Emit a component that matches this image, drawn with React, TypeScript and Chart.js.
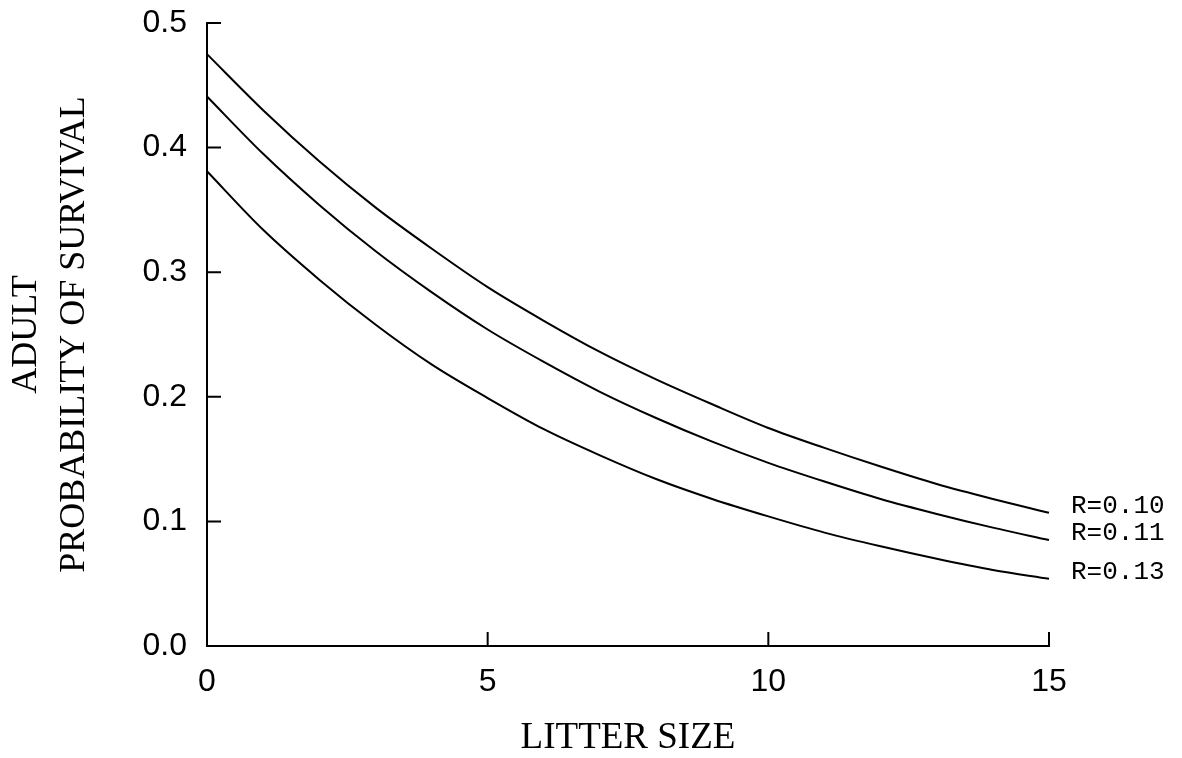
import React, { useEffect, useRef } from "react";
import { Chart, registerables } from "chart.js";

Chart.register(...registerables);

const xValues = [0, 1, 2, 3, 4, 5, 6, 7, 8, 9, 10, 11, 12, 13, 14, 15];
const survivalR010 = [0.475, 0.430, 0.389, 0.352, 0.319, 0.288, 0.261, 0.236, 0.214, 0.194, 0.175, 0.159, 0.144, 0.130, 0.118, 0.107];
const survivalR011 = [0.441, 0.395, 0.354, 0.317, 0.284, 0.254, 0.228, 0.204, 0.183, 0.164, 0.147, 0.132, 0.118, 0.106, 0.095, 0.085];
const survivalR013 = [0.381, 0.334, 0.294, 0.258, 0.226, 0.199, 0.174, 0.153, 0.134, 0.118, 0.104, 0.091, 0.080, 0.070, 0.061, 0.054];
const seriesLabels = ["R=0.10", "R=0.11", "R=0.13"];
const yTitleLines = ["ADULT", "PROBABILITY OF SURVIVAL"];
const xTitle = "LITTER SIZE";

const seriesValues = [survivalR010, survivalR011, survivalR013];

const decorPlugin = {
  id: "decor",
  afterDraw(chart: any) {
    const { ctx, chartArea } = chart;
    const xs = chart.scales.x;
    const ys = chart.scales.y;
    ctx.save();
    ctx.strokeStyle = "#000";
    ctx.lineWidth = 2;
    ctx.beginPath();
    ys.ticks.forEach((t: any) => {
      const py = ys.getPixelForValue(t.value);
      ctx.moveTo(chartArea.left, py);
      ctx.lineTo(chartArea.left + 14, py);
    });
    xs.ticks.forEach((t: any) => {
      const px = xs.getPixelForValue(t.value);
      ctx.moveTo(px, chartArea.bottom);
      ctx.lineTo(px, chartArea.bottom - 14);
    });
    ctx.stroke();
    ctx.fillStyle = "#000";
    ctx.font = "26px 'Liberation Mono', monospace";
    ctx.textAlign = "left";
    ctx.textBaseline = "middle";
    chart.data.datasets.forEach((ds: any, i: number) => {
      const meta = chart.getDatasetMeta(i);
      const last = meta.data[meta.data.length - 1];
      if (last) ctx.fillText(ds.label, last.x + 22, last.y - 7);
    });
    ctx.restore();
  },
};

export default function App() {
  const canvasRef = useRef<HTMLCanvasElement | null>(null);

  useEffect(() => {
    document.body.style.margin = "0";
    const canvas = canvasRef.current;
    if (!canvas) return;
    const chart = new Chart(canvas, {
      type: "line",
      data: {
        datasets: seriesValues.map((vals, i) => ({
          label: seriesLabels[i],
          data: xValues.map((x, j) => ({ x, y: vals[j] })),
          borderColor: "#000",
          borderWidth: 2,
          pointRadius: 0,
          fill: false,
          cubicInterpolationMode: "monotone" as const,
          clip: false as any,
        })),
      },
      options: {
        animation: false,
        responsive: false,
        maintainAspectRatio: false,
        layout: { padding: { left: 0, right: 133, top: 23, bottom: 0 } },
        plugins: {
          legend: { display: false },
          tooltip: { enabled: false },
        },
        scales: {
          x: {
            type: "linear",
            min: 0,
            max: 15,
            afterFit(scale: any) {
              scale.height = 112;
              scale.paddingLeft = 0;
              scale.paddingRight = 0;
            },
            grid: { display: false, drawTicks: false },
            border: { display: true, color: "#000", width: 2 },
            ticks: {
              stepSize: 5,
              padding: 17,
              color: "#000",
              font: { family: "'Liberation Sans', Arial, sans-serif", size: 32 },
            },
            title: {
              display: true,
              text: xTitle,
              color: "#000",
              font: { family: "'Liberation Serif', serif", size: 37, lineHeight: 1 },
              padding: { top: 0, bottom: 1 },
            },
          },
          y: {
            type: "linear",
            min: 0,
            max: 0.5,
            afterFit(scale: any) {
              scale.width = 207;
              scale.paddingTop = 0;
              scale.paddingBottom = 0;
            },
            grid: { display: false, drawTicks: false },
            border: { display: true, color: "#000", width: 2 },
            ticks: {
              stepSize: 0.1,
              padding: 20,
              color: "#000",
              font: { family: "'Liberation Sans', Arial, sans-serif", size: 32 },
              callback: (v: any) => Number(v).toFixed(1),
            },
            title: {
              display: true,
              text: yTitleLines,
              color: "#000",
              font: { family: "'Liberation Serif', serif", size: 36, lineHeight: 1.347 },
              padding: { top: 2, bottom: 0 },
            },
          },
        },
      },
      plugins: [decorPlugin],
    });
    return () => chart.destroy();
  }, []);

  return (
    <div style={{ position: "absolute", left: 0, top: 0, width: 1182, height: 758, background: "#fff" }}>
      <canvas ref={canvasRef} width={1182} height={758} />
    </div>
  );
}
